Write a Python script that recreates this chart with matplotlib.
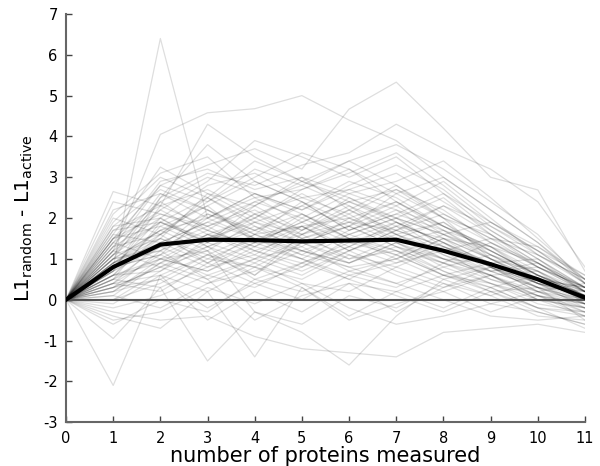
import matplotlib
matplotlib.use("Agg")
import matplotlib.pyplot as plt
import numpy as np

# число измеренных белков (ось X)
n_proteins = list(range(0, 12))

# отдельные прогоны: значения при x = 1..11 (при x = 0 все начинаются с 0)
traces = [
    [0.8, 6.4, 2.0, 1.5, 1.8, 1.2, 1.6, 1.0, 0.9, 0.4, 0.1],
    [1.2, 4.05, 4.58, 4.68, 5.0, 4.4, 3.9, 3.0, 2.2, 1.4, 0.5],
    [1.5, 2.8, 3.3, 3.7, 3.2, 4.67, 5.33, 4.2, 3.0, 2.69, 0.7],
    [2.65, 2.3, 4.3, 3.5, 2.9, 3.4, 3.8, 3.2, 2.4, 1.6, 0.4],
    [-2.1, 0.6, -0.5, 0.2, -0.3, 0.4, 0.2, -0.2, 0.3, -0.2, -0.3],
    [-0.95, 0.3, -1.5, -0.3, -0.6, 0.1, -0.2, 0.4, 0.1, -0.4, -0.5],
    [-0.4, -0.7, 0.2, -1.4, 0.3, -0.5, -0.1, 0.2, -0.3, 0.1, -0.2],
    [0.3, 0.8, 1.2, -0.3, -0.8, -1.6, -0.4, 0.5, 0.8, 0.3, -0.1],
    [-0.3, -0.5, -0.4, -0.9, -1.2, -1.3, -1.4, -0.8, -0.7, -0.6, -0.8],
    [1.0, 2.5, 3.1, 2.8, 3.3, 3.6, 4.3, 3.7, 3.2, 2.4, 0.8],
    [0.5, 1.3, 1.8, 2.2, 1.6, 1.9, 2.4, 1.8, 1.2, 0.6, 0.2],
    [1.1, 1.9, 1.4, 1.0, 1.7, 2.3, 1.6, 1.1, 0.7, 0.3, 0.0],
    [0.9, 1.6, 2.5, 1.8, 1.2, 0.9, 1.4, 1.7, 1.3, 0.9, 0.3],
    [0.2, 0.9, 1.3, 1.7, 2.1, 1.5, 1.1, 0.6, 0.9, 0.4, -0.2],
    [1.4, 2.2, 1.6, 2.0, 2.6, 2.0, 1.5, 1.9, 1.1, 0.5, 0.1],
    [0.6, 1.0, 0.7, 1.2, 0.8, 1.3, 1.9, 1.4, 0.8, 0.2, -0.1],
    [1.8, 2.7, 2.2, 1.5, 1.1, 1.7, 2.1, 2.6, 1.7, 1.0, 0.3],
    [0.4, 0.2, 0.9, 1.4, 1.0, 0.6, 0.9, 1.2, 0.5, 0.1, -0.3],
    [1.3, 2.0, 2.8, 3.1, 2.5, 2.1, 2.7, 2.2, 1.4, 0.9, 0.2],
    [0.7, 1.5, 1.1, 0.6, 1.4, 1.8, 1.3, 0.7, 0.3, 0.6, 0.1],
    [1.6, 3.25, 2.6, 2.3, 2.9, 2.5, 2.0, 1.6, 1.9, 1.2, 0.4],
    [0.0, 0.4, 1.0, 0.8, 0.5, 1.1, 0.6, 0.2, 0.6, 0.0, -0.4],
    [1.0, 1.7, 2.0, 2.5, 1.9, 1.4, 1.8, 2.3, 1.6, 0.8, 0.3],
    [0.8, 1.1, 1.6, 1.2, 1.6, 2.2, 2.8, 2.0, 1.0, 0.7, -0.1],
    [2.4, 2.1, 1.7, 2.4, 2.0, 2.6, 2.2, 1.5, 1.3, 0.5, 0.0],
    [0.3, 1.2, 0.5, 1.0, 1.3, 0.7, 1.0, 1.5, 1.0, 0.4, 0.2],
    [1.2, 2.4, 3.0, 2.6, 2.2, 2.8, 3.3, 2.7, 1.8, 1.1, 0.5],
    [-0.2, 0.1, 0.6, 0.3, 0.9, 0.5, 0.1, -0.3, 0.2, 0.3, -0.5],
    [0.9, 1.4, 1.9, 1.5, 1.2, 1.6, 1.2, 0.9, 1.4, 0.8, 0.2],
    [1.5, 1.8, 2.3, 2.9, 2.4, 1.9, 1.7, 2.1, 1.5, 1.3, 0.6],
    [0.6, 0.7, 1.5, 1.9, 1.4, 1.0, 1.5, 1.0, 0.6, 0.0, -0.2],
    [1.1, 2.6, 2.2, 1.7, 2.3, 2.9, 2.5, 1.8, 1.2, 0.6, 0.1],
    [0.5, 1.0, 1.2, 0.5, 0.9, 1.4, 1.1, 0.6, 0.4, 0.1, -0.1],
    [2.0, 1.6, 2.1, 1.6, 1.8, 1.2, 1.7, 1.3, 0.9, 0.5, 0.3],
    [0.7, 1.3, 0.8, 1.4, 1.9, 2.4, 1.9, 1.4, 0.7, 0.3, 0.0],
    [1.4, 2.9, 3.2, 2.7, 3.0, 2.6, 2.9, 3.4, 2.5, 1.5, 0.5],
    [0.1, -0.2, 0.4, 0.9, 0.4, 0.2, 0.8, 0.4, -0.1, -0.3, -0.6],
    [0.8, 2.0, 1.4, 2.0, 2.7, 3.2, 2.4, 1.7, 1.0, 0.4, 0.1],
    [1.7, 2.3, 2.7, 2.1, 1.5, 1.8, 2.3, 2.9, 2.0, 1.1, 0.4],
    [0.4, 0.6, 1.1, 1.6, 1.1, 0.8, 0.4, 0.8, 1.1, 0.6, 0.0],
    [1.0, 1.2, 1.7, 1.3, 2.0, 1.5, 1.9, 1.4, 0.9, 1.0, 0.2],
    [0.2, 0.5, -0.2, 0.4, 0.0, 0.6, 0.3, 0.9, 0.4, -0.1, -0.3],
    [1.3, 1.6, 2.4, 3.0, 3.6, 3.2, 2.6, 2.0, 1.6, 0.9, 0.3],
    [0.6, 1.8, 1.3, 0.9, 1.5, 1.1, 0.8, 1.3, 0.8, 0.2, -0.2],
    [1.9, 3.0, 2.5, 1.9, 1.6, 2.1, 1.4, 1.0, 0.6, 0.7, 0.1],
    [0.3, 0.8, 0.4, 0.7, 1.2, 0.9, 1.4, 0.9, 0.5, 0.2, 0.4],
    [1.1, 2.2, 2.9, 3.9, 3.5, 3.0, 3.5, 2.6, 1.9, 1.2, 0.6],
    [-0.5, -0.3, 0.3, -0.1, 0.4, -0.2, -0.6, -0.4, -0.1, 0.2, -0.3],
    [0.9, 1.5, 1.0, 1.5, 1.0, 1.6, 2.0, 1.6, 1.1, 0.5, 0.0],
    [1.6, 1.4, 1.9, 2.4, 2.8, 2.3, 1.8, 1.5, 0.8, 0.3, 0.2],
    [0.7, 2.5, 3.8, 2.9, 2.4, 1.7, 2.2, 1.8, 1.3, 0.7, 0.1],
    [0.5, 0.3, 0.8, 1.1, 0.7, 1.2, 0.7, 0.3, 0.8, 0.4, -0.1],
    [1.2, 1.9, 1.5, 2.1, 2.5, 2.7, 3.1, 2.4, 1.7, 1.0, 0.3],
    [0.0, 0.7, 1.3, 0.6, 1.6, 1.0, 1.2, 0.7, 0.2, -0.2, -0.4],
    [2.2, 2.6, 2.0, 2.6, 2.1, 1.6, 2.0, 2.5, 1.6, 0.9, 0.2],
    [0.8, 1.1, 2.1, 1.7, 1.3, 2.0, 1.6, 1.2, 1.5, 1.1, 0.5],
    [1.0, 1.7, 1.2, 1.9, 2.3, 1.8, 2.6, 3.0, 2.2, 1.4, 0.4],
    [0.4, 1.4, 0.9, 0.4, 0.8, 1.5, 1.0, 0.5, 0.1, 0.5, 0.0],
    [1.5, 2.1, 1.8, 2.3, 1.7, 2.2, 1.6, 1.9, 1.2, 0.6, 0.1],
    [-0.1, 0.6, 0.2, 0.8, 0.3, -0.4, 0.2, 0.6, 0.3, -0.2, -0.7],
    [1.3, 2.8, 2.4, 3.2, 2.8, 3.4, 2.8, 2.1, 1.5, 0.8, 0.2],
    [0.6, 0.9, 1.6, 1.1, 1.8, 1.3, 0.9, 1.4, 0.9, 0.3, -0.1],
    [1.8, 2.0, 1.3, 1.8, 1.4, 0.9, 1.3, 1.0, 0.7, 0.8, 0.3],
    [0.9, 1.2, 2.0, 2.6, 2.2, 2.7, 2.3, 1.6, 1.0, 0.5, 0.0],
    [0.2, 1.0, 0.7, 1.3, 1.0, 0.5, 1.1, 1.6, 1.2, 0.6, 0.2],
    [1.1, 1.5, 2.6, 2.0, 1.5, 1.9, 1.4, 0.8, 0.4, 0.0, -0.2],
    [0.5, 1.9, 1.4, 2.3, 3.0, 2.2, 1.7, 2.3, 1.8, 1.2, 0.4],
    [1.4, 1.0, 1.6, 1.4, 1.9, 2.4, 2.0, 1.3, 0.9, 0.4, 0.1],
    [0.7, 2.3, 1.8, 1.2, 0.9, 1.3, 1.8, 1.1, 0.6, 0.2, 0.0],
    [-0.6, 0.0, -0.3, 0.5, 0.2, 0.7, 0.4, 0.0, -0.4, -0.5, -0.4],
    [1.0, 1.3, 2.2, 1.6, 2.4, 1.7, 2.1, 1.7, 1.1, 0.7, 0.2],
    [0.3, 0.5, 1.1, 0.8, 1.4, 1.8, 1.3, 0.9, 0.6, 0.1, -0.1],
    [2.1, 3.1, 3.5, 2.5, 2.7, 3.1, 3.6, 2.8, 1.9, 1.3, 0.5],
    [0.6, 1.6, 0.9, 1.6, 1.2, 0.8, 1.0, 1.5, 1.0, 0.5, 0.3],
    [1.2, 0.8, 1.4, 2.1, 1.7, 2.5, 1.9, 1.2, 0.7, 0.9, 0.2],
    [0.9, 1.7, 2.3, 1.4, 2.1, 1.5, 1.2, 0.6, 0.2, -0.3, -0.6],
    [0.4, 1.1, 0.6, 1.0, 0.6, 1.2, 1.7, 1.3, 0.8, 0.4, 0.0],
    [1.7, 1.9, 2.5, 3.4, 2.9, 2.4, 2.7, 2.0, 1.4, 0.8, 0.3],
    [0.1, 0.9, 0.5, -0.5, 0.1, 0.4, -0.3, 0.3, 0.6, 0.1, -0.4],
    [1.5, 2.4, 1.7, 1.3, 1.8, 2.0, 2.4, 1.8, 1.3, 0.6, 0.1],
]

# средняя кривая (жирная чёрная)
mean_curve = [0, 0.8, 1.35, 1.47, 1.46, 1.43, 1.45, 1.47, 1.2, 0.87, 0.5, 0.05]

x = np.array(n_proteins)
data = np.hstack([np.zeros((len(traces), 1)), np.array(traces)])

fig = plt.figure(figsize=(6.0, 4.66), dpi=100)
ax = fig.add_axes([0.11, 0.094, 0.865, 0.876])

for row in data:
    ax.plot(x, row, color='black', alpha=0.13, lw=0.9)

ax.axhline(0, color='#555555', lw=1.5, zorder=3)
ax.plot(x, mean_curve, color='black', lw=3, zorder=4)

ax.set_xlim(0, 11)
ax.set_ylim(-3, 7)
ax.set_xticks(n_proteins)
ax.set_yticks(range(-3, 8))
ax.set_yticklabels([str(v) for v in range(-3, 8)])

for side in ['top', 'right']:
    ax.spines[side].set_visible(False)
for side in ['left', 'bottom']:
    ax.spines[side].set_color('#666666')
    ax.spines[side].set_linewidth(1.5)
ax.tick_params(direction='in', length=4, width=1, color='#444444', labelsize=10.5, pad=6)

ax.set_xlabel('number of proteins measured', fontsize=15, labelpad=0)
ax.set_ylabel(r'L1$_{\rm random}$ - L1$_{\rm active}$', fontsize=14.5, labelpad=6)

fig.savefig('out.png', dpi=100)
